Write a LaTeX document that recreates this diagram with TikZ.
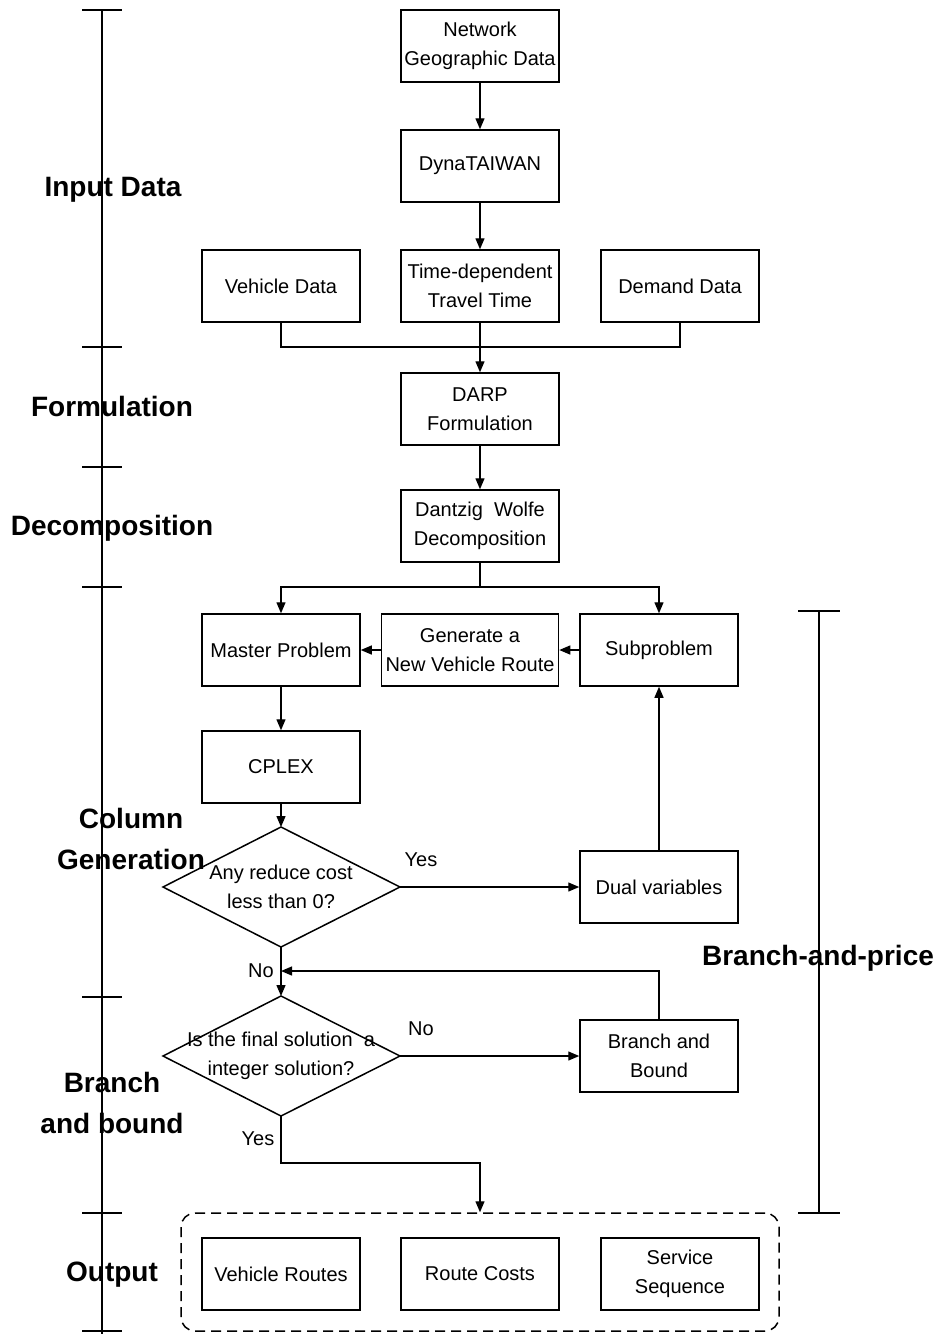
\documentclass[tikz,border=0pt]{standalone}
\usepackage{fontspec}
\setmainfont{Liberation Sans}
\usetikzlibrary{arrows.meta}
\begin{document}
\begin{tikzpicture}[x=1pt,y=-1pt,
  box/.style={draw,line width=1.5pt,minimum width=158pt,minimum height=72pt,align=center,inner sep=2pt,font=\fontsize{20}{29}\selectfont},
  lab/.style={font=\fontsize{28}{41}\selectfont\bfseries,align=center},
  txt/.style={font=\fontsize{20}{29}\selectfont,align=center},
  ln/.style={line width=1.3pt},
  arr/.style={ln,-{Triangle[length=11pt,width=9pt]}},
  diam/.style={line width=1.5pt}
]
\useasboundingbox (0,0) rectangle (937,1334);
% left axis
\draw[ln] (102,10) -- (102,1334);
\foreach \y in {10,347,467,587,997,1213,1331} \draw[ln] (82,\y) -- (122,\y);
% right axis
\draw[ln] (819,611) -- (819,1213);
\foreach \y in {611,1213} \draw[ln] (798,\y) -- (840,\y);
% stage labels
\node[lab] (lin) at (113,190) {Input Data};
\node[lab] (lfo) at (112,406) {Formulation};
\node[lab] (lde) at (112,528) {Decomposition};
\node[lab] (lcg) at (131,839) {Column\\Generation};
\node[lab] (lbb) at (112,1103) {Branch\\and bound};
\node[lab] (lout) at (112,1275) {Output};
\node[lab] (lbp) at (818,958) {Branch-and-price};
% boxes
\node[box] (ngd) at (480,46) {Network\\Geographic Data};
\node[box] (dyn) at (480,166) {DynaTAIWAN};
\node[box] (ttt) at (480,286) {Time-dependent\\Travel Time};
\node[box] (veh) at (281,286) {Vehicle Data};
\node[box] (dem) at (680,286) {Demand Data};
\node[box] (darp) at (480,409) {DARP\\Formulation};
\node[box] (dw) at (480,526) {Dantzig\ \ Wolfe\\Decomposition};
\node[box] (mp) at (281,650) {Master Problem};
\node[box,minimum width=177pt] (gen) at (470,650) {Generate a\\New Vehicle Route};
\node[box] (sub) at (659,650) {Subproblem};
\node[box] (cplex) at (281,767) {CPLEX};
\node[box] (dual) at (659,887) {Dual variables};
\node[box] (bb) at (659,1056) {Branch and\\Bound};
% diamonds
\coordinate (d1t) at (281,827); \coordinate (d1b) at (281,947);
\coordinate (d1l) at (163,887); \coordinate (d1r) at (400,887);
\draw[diam] (d1t) -- (d1r) -- (d1b) -- (d1l) -- cycle;
\node[txt] (d1) at (281,887) {Any reduce cost\\less than 0?};
\coordinate (d2t) at (281,996); \coordinate (d2b) at (281,1116);
\coordinate (d2l) at (163,1056); \coordinate (d2r) at (400,1056);
\draw[diam] (d2t) -- (d2r) -- (d2b) -- (d2l) -- cycle;
\node[txt] (d2) at (281,1056) {Is the final solution\ \ a\\integer solution?};
% output
\node[draw,line width=1.5pt,dash pattern=on 10pt off 6pt,rounded corners=14pt,minimum width=598pt,minimum height=118pt] (out) at (480,1272) {};
\node[box] (vr) at (281,1274) {Vehicle Routes};
\node[box] (rc) at (480,1274) {Route Costs};
\node[box] (ss) at (680,1274) {Service\\Sequence};
% connectors
\draw[arr] (ngd) -- (dyn);
\draw[arr] (dyn) -- (ttt);
\coordinate (j1) at (480,347);
\draw[ln] (veh.south) |- (j1) -| (dem.south);
\draw[ln] (ttt.south) -- (j1);
\draw[arr] (j1) -- (darp.north);
\draw[arr] (darp) -- (dw);
\coordinate (j2) at (480,587);
\draw[ln] (dw.south) -- (j2);
\draw[arr] (j2) -| (mp.north);
\draw[arr] (j2) -| (sub.north);
\draw[arr] (sub) -- (gen);
\draw[arr] (gen) -- (mp);
\draw[arr] (mp) -- (cplex);
\draw[arr] (cplex.south) -- (d1t);
\draw[arr] (d1r) -- (dual.west);
\draw[arr] (dual) -- (sub);
\draw[arr] (d1b) -- (d2t);
\coordinate (j3) at (281,971);
\draw[arr] (bb.north) |- (j3);
\draw[arr] (d2r) -- (bb.west);
\coordinate (j4) at (480,1163);
\draw[arr] (d2b) |- (j4) -- (out.north);
% connector labels
\node[txt] (y1) at (421,860) {Yes};
\node[txt] (n1) at (261,971) {No};
\node[txt] (n2) at (421,1029) {No};
\node[txt] (y2) at (258,1139) {Yes};
\end{tikzpicture}
\end{document}
